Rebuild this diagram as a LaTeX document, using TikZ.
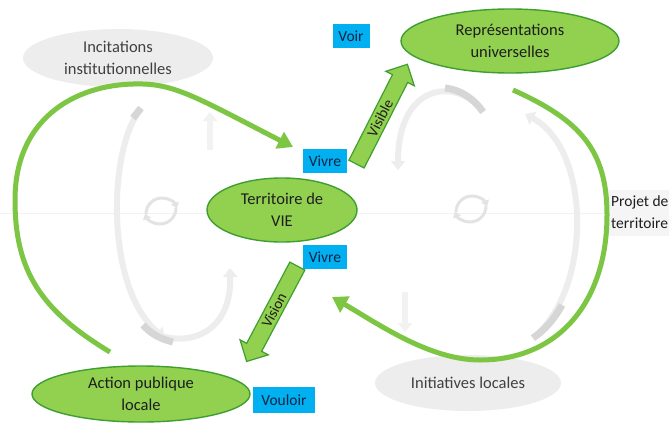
\documentclass[tikz,border=0pt]{standalone}
\usepackage{fontspec}
\setmainfont{Carlito}
\usetikzlibrary{shapes.geometric,shapes.arrows,arrows.meta}
\definecolor{lgreen}{HTML}{92D050}
\definecolor{dgreen}{HTML}{3F9E30}
\definecolor{lineg}{HTML}{7CC644}
\definecolor{bluebx}{HTML}{00B0F0}
\definecolor{navy}{HTML}{0E2444}
\definecolor{txt}{HTML}{1E1E1E}
\definecolor{grayell}{HTML}{EDEDED}
\tikzset{
  greenell/.style={ellipse, draw=dgreen, line width=1.4pt, fill=lgreen, inner sep=0pt,
    align=center, text=txt, font=\fontsize{16.5}{22}\selectfont},
  grayel/.style={ellipse, fill=grayell, inner sep=0pt, align=center, text=txt!85,
    font=\fontsize{16.5}{22}\selectfont},
  bluebox/.style={rectangle, fill=bluebx, inner sep=0pt, text=navy,
    font=\fontsize{15.5}{17}\selectfont, minimum height=24pt},
  bigarrow/.style={line width=5pt, draw=lineg, -{Triangle[length=15pt,width=18pt]}},
  blockarrow/.style={single arrow, draw=dgreen, line width=1.2pt, fill=lgreen, inner sep=1pt,
    single arrow head extend=6pt, single arrow head indent=0pt, text=txt,
    font=\fontsize{15}{16}\selectfont},
  faint/.style={line width=6pt, draw=gray!14, -{Triangle[length=9pt,width=14pt]}},
  fainter/.style={line width=3pt, draw=gray!22, -{Triangle[length=6pt,width=8pt]}},
}
\begin{document}
\begin{tikzpicture}[x=1pt,y=-1pt]
\useasboundingbox (0,0) rectangle (669,426);
\clip (0,0) rectangle (669,426);
\fill[white] (0,0) rectangle (669,426);

% faint background diagram
\draw[gray!10, line width=0.6pt] (0,213) -- (669,213);
\draw[faint] (140,110) .. controls (108,150) and (105,290) .. (165,338);
\draw[gray!32, line width=7pt] (141,108) -- (133,118);
\draw[faint, draw=gray!10] (210,150) -- (210,112);
\draw[faint] (143,325) .. controls (165,348) and (232,348) .. (230,268);
\draw[gray!32, line width=7pt] (143,325) .. controls (150,333) and (160,339) .. (173,342);
\draw[faint] (483,112) .. controls (460,78) and (398,80) .. (398,170);
\draw[gray!32, line width=7pt] (483,112) .. controls (475,100) and (462,90) .. (445,88);
\draw[faint] (533,338) .. controls (592,290) and (592,150) .. (525,114);
\draw[gray!32, line width=7pt] (533,338) .. controls (545,330) and (555,318) .. (562,305);
\draw[faint, draw=gray!10] (405,292) -- (405,332);
\draw[fainter] (176,208) arc (0:160:16);
\draw[fainter] (146,214) arc (180:340:16);
\draw[fainter] (486,206) arc (0:160:16);
\draw[fainter] (456,212) arc (180:340:16);

% gray ellipses and side label
\node[grayel, minimum width=190pt, minimum height=58pt] (inc) at (118,58) {Incitations\\institutionnelles};
\node[grayel, minimum width=186pt, minimum height=56pt] (ini) at (468,383) {Initiatives locales};
\fill[gray!8] (606,190) rectangle (690,236);
\node[anchor=west, align=left, text=txt, inner sep=0pt, font=\fontsize{15.5}{22}\selectfont] (proj) at (611,212) {Projet de\\territoire};

% green loops
\coordinate (ls) at (110,352);
\coordinate (lt) at (293,147);
\draw[bigarrow] (ls) .. controls (40,310) and (15,270) .. (15,200)
   .. controls (15,115) and (80,82) .. (143,84)
   .. controls (178,85) and (205,102) .. (lt);
\coordinate (rs) at (513,90);
\coordinate (rt) at (332,297);
\draw[bigarrow] (rs) .. controls (580,120) and (607,150) .. (607,215)
   .. controls (607,300) and (560,360) .. (480,360)
   .. controls (430,360) and (380,325) .. (rt);

% main nodes
\node[greenell, minimum width=218pt, minimum height=64pt] (rep) at (510,41) {Représentations\\universelles};
\node[greenell, minimum width=150pt, minimum height=64pt] (vie) at (282,210) {Territoire de\\VIE};
\node[greenell, minimum width=218pt, minimum height=56pt] (act) at (141,394) {Action publique\\locale};

\node[bluebox, minimum width=37pt] (voir) at (351,36) {Voir};
\node[bluebox, minimum width=44pt] (viv1) at (325,161) {Vivre};
\node[bluebox, minimum width=44pt] (viv2) at (325,257) {Vivre};
\node[bluebox, minimum width=62pt, minimum height=26pt] (voul) at (284,400) {Vouloir};

% block arrows
\node[blockarrow, minimum width=32pt, minimum height=112pt, rotate=63] (vis) at (380,118) {Visible};
\node[blockarrow, minimum width=32pt, minimum height=108pt, rotate=62, shape border rotate=180] (vsn) at (274,310) {Vision};
\end{tikzpicture}
\end{document}
